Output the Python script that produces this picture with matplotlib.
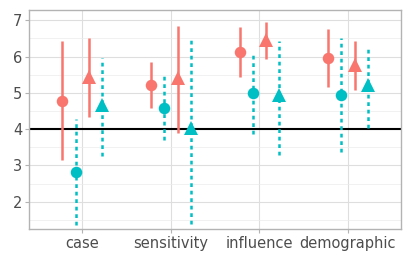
import numpy as np
import matplotlib
matplotlib.use('Agg')
import matplotlib.pyplot as plt
from matplotlib.ticker import MultipleLocator

categories = ['case', 'sensitivity', 'influence', 'demographic']

# red circle, cyan circle, red triangle, cyan triangle
red_circ_mean = [4.79, 5.21, 6.13, 5.97]
red_circ_lo = [3.16, 4.57, 5.44, 5.16]
red_circ_hi = [6.42, 5.85, 6.82, 6.75]

cyan_circ_mean = [2.82, 4.57, 5.01, 4.93]
cyan_circ_lo = [1.35, 3.69, 3.88, 3.36]
cyan_circ_hi = [4.29, 5.48, 6.13, 6.51]

red_tri_mean = [5.45, 5.40, 6.45, 5.77]
red_tri_lo = [4.34, 3.90, 5.94, 5.07]
red_tri_hi = [6.51, 6.84, 6.95, 6.42]

cyan_tri_mean = [4.66, 4.02, 4.93, 5.21]
cyan_tri_lo = [3.26, 1.40, 3.28, 4.03]
cyan_tri_hi = [5.97, 6.50, 6.43, 6.29]

RED = '#F8766D'
CYAN = '#00BFC4'

fig, ax = plt.subplots(figsize=(4.11, 2.66), dpi=100)
fig.subplots_adjust(left=0.071, right=0.976, top=0.962, bottom=0.139)

x = np.arange(1, len(categories) + 1)

series = [
    (red_circ_mean, red_circ_lo, red_circ_hi, RED, 'o', '-', -0.225),
    (cyan_circ_mean, cyan_circ_lo, cyan_circ_hi, CYAN, 'o', ':', -0.075),
    (red_tri_mean, red_tri_lo, red_tri_hi, RED, '^', '-', 0.075),
    (cyan_tri_mean, cyan_tri_lo, cyan_tri_hi, CYAN, '^', ':', 0.225),
]

ax.axhline(4, color='black', lw=1.5, zorder=2)

for mean, lo, hi, col, mk, ls, off in series:
    xs = x + off
    for xi, l, h in zip(xs, lo, hi):
        line, = ax.plot([xi, xi], [l, h], color=col, lw=1.8, zorder=3,
                        solid_capstyle='butt', dash_capstyle='butt')
        if ls == ':':
            line.set_dashes((1.5, 1.5))
    ax.plot(xs, mean, linestyle='none', marker=mk, color=col,
            markersize=9.5 if mk == '^' else 8.3, markeredgewidth=0, zorder=4)

ax.set_xlim(0.4, 4.6)
ax.set_ylim(1.25, 7.28)
ax.set_xticks(x)
ax.set_xticklabels(categories)
ax.yaxis.set_major_locator(MultipleLocator(1))
ax.yaxis.set_minor_locator(MultipleLocator(0.5))

ax.set_facecolor('white')
ax.grid(which='major', color='#DEDEDE', lw=0.8, zorder=0)
ax.grid(which='minor', axis='y', color='#EBEBEB', lw=0.5, zorder=0)
ax.set_axisbelow(True)
for s in ax.spines.values():
    s.set_color('#B3B3B3')
    s.set_linewidth(1.0)
ax.tick_params(axis='both', which='major', colors='#B3B3B3', labelcolor='#4D4D4D',
               labelsize=10.5, length=3, width=0.8, pad=2)
ax.tick_params(axis='both', which='minor', length=0)

fig.savefig('out.png', dpi=100)
